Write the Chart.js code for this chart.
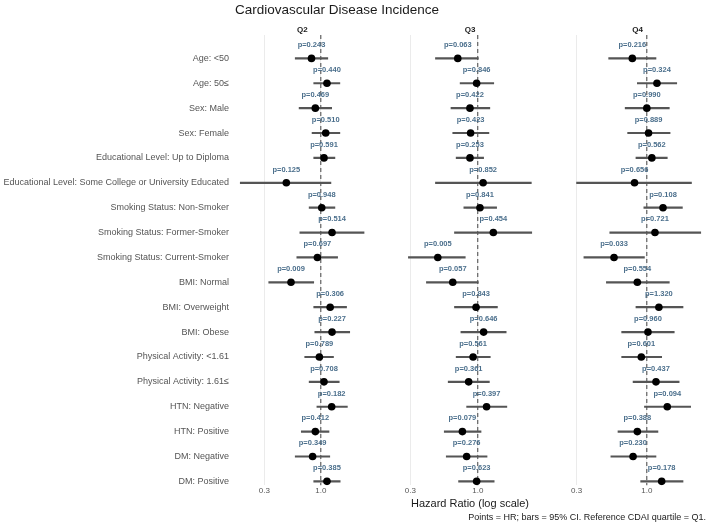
<!DOCTYPE html>
<html><head><meta charset="utf-8">
<script src="https://cdn.jsdelivr.net/npm/chart.js@4/dist/chart.umd.min.js"></script>
<style>html,body{margin:0;padding:0;background:#fff}#wrap{position:relative;width:709px;height:526px}</style>
</head><body><div id="wrap"><canvas id="c" width="709" height="526"></canvas></div>
<script>
const chartTitle = 'Cardiovascular Disease Incidence';
const xAxisTitle = 'Hazard Ratio (log scale)';
const caption = 'Points = HR; bars = 95% CI. Reference CDAI quartile = Q1.';
const categories = [
  'Age: <50', 'Age: 50≤', 'Sex: Male', 'Sex: Female',
  'Educational Level: Up to Diploma', 'Educational Level: Some College or University Educated',
  'Smoking Status: Non-Smoker', 'Smoking Status: Former-Smoker', 'Smoking Status: Current-Smoker',
  'BMI: Normal', 'BMI: Overweight', 'BMI: Obese',
  'Physical Activity: <1.61', 'Physical Activity: 1.61≤',
  'HTN: Negative', 'HTN: Positive', 'DM: Negative', 'DM: Positive'
];
const panels = ['Q2', 'Q3', 'Q4'];

const hrQ2 = [0.82, 1.14, 0.89, 1.11, 1.07, 0.48, 1.02, 1.27, 0.93, 0.53, 1.22, 1.27, 0.97, 1.07, 1.26, 0.89, 0.84, 1.14];
const loQ2 = [0.58, 0.86, 0.63, 0.83, 0.86, 0.18, 0.78, 0.64, 0.60, 0.33, 0.86, 0.88, 0.71, 0.78, 0.92, 0.66, 0.58, 0.86];
const hiQ2 = [1.16, 1.50, 1.26, 1.50, 1.35, 1.24, 1.35, 2.51, 1.43, 0.86, 1.73, 1.85, 1.31, 1.48, 1.76, 1.19, 1.21, 1.51];
const pQ2  = ['0.243','0.440','0.469','0.510','0.591','0.125','0.948','0.514','0.697','0.009','0.306','0.227','0.789','0.708','0.182','0.412','0.349','0.385'];

const hrQ3 = [0.70, 0.98, 0.87, 0.88, 0.87, 1.10, 1.04, 1.32, 0.49, 0.64, 0.97, 1.11, 0.92, 0.85, 1.17, 0.76, 0.82, 0.98];
const loQ3 = [0.47, 0.73, 0.62, 0.64, 0.68, 0.47, 0.78, 0.66, 0.29, 0.40, 0.66, 0.74, 0.68, 0.59, 0.82, 0.55, 0.57, 0.71];
const hiQ3 = [1.01, 1.33, 1.24, 1.22, 1.11, 2.60, 1.40, 2.62, 0.80, 1.01, 1.42, 1.66, 1.25, 1.23, 1.68, 1.06, 1.18, 1.34];
const pQ3  = ['0.063','0.846','0.422','0.423','0.253','0.852','0.841','0.454','0.005','0.057','0.843','0.646','0.561','0.361','0.397','0.079','0.276','0.623'];

const hrQ4 = [0.78, 1.19, 1.00, 1.03, 1.09, 0.81, 1.32, 1.15, 0.57, 0.85, 1.23, 1.02, 0.91, 1.17, 1.42, 0.85, 0.79, 1.29];
const loQ4 = [0.52, 0.85, 0.69, 0.72, 0.83, 0.30, 0.95, 0.53, 0.34, 0.50, 0.83, 0.65, 0.65, 0.79, 0.96, 0.61, 0.54, 0.90];
const hiQ4 = [1.17, 1.67, 1.47, 1.49, 1.42, 2.15, 1.84, 2.52, 0.96, 1.47, 1.86, 1.60, 1.29, 1.74, 2.12, 1.21, 1.17, 1.86];
const pQ4  = ['0.216','0.324','0.990','0.889','0.562','0.656','0.108','0.721','0.033','0.554','1.320','0.960','0.601','0.437','0.094','0.388','0.230','0.178'];

const xTickValues = [0.3, 1.0];
const xTickLabels = ['0.3', '1.0'];
const refValue = 1.0;

const panelData = [
  {id: 'xq2', hr: hrQ2, lo: loQ2, hi: hiQ2, p: pQ2},
  {id: 'xq3', hr: hrQ3, lo: loQ3, hi: hiQ3, p: pQ3},
  {id: 'xq4', hr: hrQ4, lo: loQ4, hi: hiQ4, p: pQ4}
];

const FONT = '"Liberation Sans", Arial, sans-serif';
const yMin = -0.94, yMax = 17.165;

const datasets = [];
panelData.forEach(pd => {
  datasets.push({
    type: 'line', xAxisID: pd.id, yAxisID: 'y', order: 3,
    data: [{x: refValue, y: yMin}, {x: refValue, y: yMax}],
    borderColor: '#444', borderWidth: 1, borderDash: [4, 3], pointRadius: 0, fill: false
  });
  datasets.push({
    type: 'bar', indexAxis: 'y', xAxisID: pd.id, yAxisID: 'y', order: 2, grouped: false,
    data: pd.lo.map((l, i) => ({y: i, x: [l, pd.hi[i]]})),
    backgroundColor: '#555', borderWidth: 0, barThickness: 1.5
  });
  datasets.push({
    type: 'scatter', xAxisID: pd.id, yAxisID: 'y', order: 1,
    data: pd.hr.map((v, i) => ({x: v, y: i})),
    backgroundColor: '#000', borderWidth: 0, pointRadius: 3.8
  });
});

function logAxis(min, max, weight, withTitle) {
  return {
    type: 'logarithmic', axis: 'x', position: 'bottom', stack: 'panels', stackWeight: weight,
    min: min, max: max, offset: false,
    afterBuildTicks: s => { s.ticks = xTickValues.map(v => ({value: v})); },
    ticks: {
      autoSkip: false, maxRotation: 0, padding: 1, color: '#555',
      font: {size: 8, family: FONT},
      callback: (v) => { const k = xTickValues.indexOf(v); return k >= 0 ? xTickLabels[k] : ''; }
    },
    grid: {color: '#ebebeb', lineWidth: 1, drawTicks: false, offset: false},
    border: {display: false},
    title: withTitle ? {display: true, text: xAxisTitle, color: '#1a1a1a', font: {size: 11, family: FONT}, padding: {top: 0, bottom: 0}} : {display: false}
  };
}
function gapAxis(weight) {
  return {type: 'linear', axis: 'x', position: 'bottom', stack: 'panels', stackWeight: weight, display: false, offset: false, grid: {display: false, offset: false}};
}

const annot = {
  id: 'annot',
  afterDraw(chart) {
    const ctx = chart.ctx, ys = chart.scales.y;
    ctx.save();
    ctx.textBaseline = 'middle';
    ctx.textAlign = 'left';
    ctx.fillStyle = '#1a1a1a';
    ctx.font = '13.5px ' + FONT;
    ctx.fillText(chartTitle, chart.chartArea.left + 1, 10);
    panelData.forEach((pd, k) => {
      const xs = chart.scales[pd.id];
      ctx.textAlign = 'center';
      ctx.fillStyle = '#1a1a1a';
      ctx.font = 'bold 8px ' + FONT;
      ctx.fillText(panels[k], (xs.left + xs.right) / 2, 30);
      ctx.fillStyle = '#4b6f8c';
      ctx.font = 'bold 7.5px ' + FONT;
      pd.p.forEach((pv, i) => {
        ctx.fillText('p=' + pv, xs.getPixelForValue(pd.hr[i]), ys.getPixelForValue(i - 0.53));
      });
    });
    ctx.textAlign = 'right';
    ctx.fillStyle = '#1a1a1a';
    ctx.font = '9px ' + FONT;
    ctx.fillText(caption, 706, 518);
    ctx.restore();
  }
};

new Chart(document.getElementById('c'), {
  type: 'scatter',
  data: {datasets: datasets},
  options: {
    responsive: false, animation: false, devicePixelRatio: 1,
    layout: {padding: {top: 35, right: 3, bottom: 21, left: 0}},
    plugins: {legend: {display: false}, tooltip: {enabled: false}, title: {display: false}},
    scales: {
      y: {
        type: 'linear', reverse: true, min: yMin, max: yMax, offset: false,
        afterBuildTicks: s => { s.ticks = categories.map((c, i) => ({value: i})); },
        afterFit: s => { s.width = 234; },
        ticks: {autoSkip: false, padding: 5, color: '#555', font: {size: 9, family: FONT},
                callback: v => categories[v]},
        grid: {display: false, drawTicks: false, offset: false}, border: {display: false}
      },
      xq2: logAxis(0.1575, 2.893, 137, false),
      g1: gapAxis(32),
      xq3: logAxis(0.2617, 2.896, 135, true),
      g2: gapAxis(33),
      xq4: logAxis(0.2693, 2.711, 135, false)
    }
  },
  plugins: [annot]
});
</script></body></html>
